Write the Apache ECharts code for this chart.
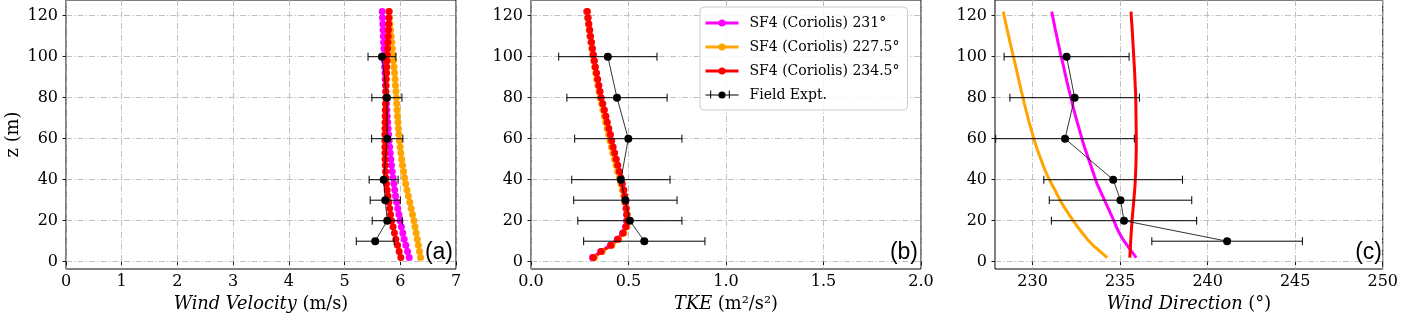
<!DOCTYPE html>
<html><head><meta charset="utf-8">
<script src="https://cdn.jsdelivr.net/npm/echarts@6/dist/echarts.min.js"></script>
<style>html,body{margin:0;padding:0;background:#fff}#c{width:1401px;height:318px}</style>
</head><body><div id="c"></div>
<script>
// ---------- data ----------
const heights = [2,5,8,11,14,17,20,23,26,29,32,35,38,41,44,47,50,53,56,59,62,65,68,71,74,77,80,83,86,89,92,95,98,101,104,107,110,113,116,119,122];

const velMagenta = [6.16,6.13,6.10,6.07,6.045,6.02,5.995,5.975,5.955,5.935,5.915,5.90,5.885,5.87,5.855,5.842,5.83,5.82,5.81,5.80,5.79,5.782,5.774,5.766,5.759,5.752,5.746,5.74,5.735,5.73,5.725,5.72,5.715,5.711,5.706,5.701,5.696,5.691,5.686,5.681,5.676];
const velOrange = [6.365,6.345,6.325,6.305,6.285,6.265,6.245,6.22,6.195,6.17,6.145,6.12,6.097,6.076,6.058,6.04,6.025,6.01,5.997,5.985,5.975,5.966,5.958,5.95,5.943,5.936,5.93,5.922,5.914,5.906,5.897,5.888,5.878,5.868,5.858,5.847,5.836,5.825,5.815,5.805,5.795];
const velRed = [6.01,5.98,5.95,5.92,5.895,5.87,5.845,5.825,5.81,5.795,5.78,5.765,5.752,5.742,5.735,5.73,5.727,5.725,5.724,5.724,5.724,5.725,5.727,5.729,5.731,5.734,5.737,5.741,5.745,5.749,5.754,5.758,5.763,5.768,5.773,5.778,5.783,5.788,5.792,5.796,5.80];

const tkeMagenta = [0.315,0.357,0.407,0.443,0.47,0.485,0.49,0.49,0.487,0.483,0.479,0.474,0.466,0.459,0.451,0.443,0.435,0.427,0.419,0.412,0.405,0.397,0.389,0.382,0.374,0.366,0.358,0.352,0.346,0.34,0.334,0.328,0.323,0.318,0.313,0.308,0.303,0.299,0.295,0.29,0.285];
const tkeOrange = [0.325,0.365,0.415,0.45,0.477,0.491,0.495,0.493,0.488,0.482,0.476,0.469,0.461,0.453,0.444,0.436,0.428,0.42,0.412,0.405,0.398,0.39,0.383,0.376,0.369,0.362,0.355,0.349,0.343,0.337,0.332,0.327,0.322,0.317,0.312,0.308,0.303,0.299,0.295,0.291,0.287];
const tkeRed = [0.32,0.36,0.41,0.445,0.472,0.487,0.492,0.492,0.489,0.485,0.481,0.476,0.468,0.461,0.453,0.445,0.437,0.429,0.421,0.414,0.407,0.399,0.391,0.384,0.376,0.368,0.36,0.354,0.348,0.342,0.336,0.33,0.325,0.32,0.315,0.31,0.305,0.301,0.297,0.293,0.289];

const dirMagenta = [235.92,235.65,235.4,235.15,234.95,234.78,234.64,234.48,234.32,234.16,234.0,233.84,233.68,233.56,233.44,233.32,233.2,233.08,232.96,232.85,232.75,232.65,232.55,232.45,232.36,232.27,232.19,232.1,232.01,231.93,231.85,231.77,231.69,231.6,231.53,231.45,231.38,231.3,231.23,231.16,231.09];
const dirOrange = [234.26,233.85,233.45,233.12,232.84,232.57,232.32,232.08,231.85,231.64,231.45,231.27,231.08,230.9,230.74,230.6,230.47,230.34,230.22,230.1,230.0,229.9,229.8,229.71,229.62,229.53,229.45,229.36,229.28,229.2,229.12,229.04,228.96,228.87,228.79,228.71,228.63,228.55,228.47,228.4,228.32];
const dirRed = [235.55,235.57,235.59,235.61,235.63,235.655,235.68,235.71,235.74,235.77,235.8,235.83,235.855,235.87,235.885,235.9,235.91,235.915,235.92,235.92,235.92,235.915,235.91,235.905,235.9,235.895,235.89,235.88,235.86,235.845,235.83,235.81,235.79,235.77,235.75,235.73,235.71,235.69,235.665,235.64,235.62];

const fieldZ = [10,20,30,40,60,80,100];
const fieldVel = [5.55,5.766,5.73,5.701,5.766,5.76,5.671];
const fieldVelErr = [0.34,0.27,0.27,0.26,0.28,0.27,0.25];
const fieldTke = [0.581,0.507,0.484,0.461,0.499,0.441,0.394];
const fieldTkeErr = [0.311,0.267,0.265,0.252,0.275,0.257,0.252];
const fieldDir = [241.11,235.22,235.02,234.6,231.85,232.4,231.94];
const fieldDirErr = [4.3,4.15,4.07,3.96,3.96,3.7,3.57];

const zTicks = [0,20,40,60,80,100,120];
const dirTicks = [230,235,240,245,250];

const names = ['SF4 (Coriolis) 231°','SF4 (Coriolis) 227.5°','SF4 (Coriolis) 234.5°','Field Expt.'];
const colors = ['#ff00ff','#ffa500','#ff0000'];
const panelLabels = ['(a)','(b)','(c)'];

// ---------- chart ----------
const chart = echarts.init(document.getElementById('c'), null, {renderer:'canvas'});
const SERIF = 'DejaVu Serif';
const pairs = xs => xs.map((x,i)=>[x, heights[i]]);
const fpairs = xs => xs.map((x,i)=>[x, fieldZ[i]]);

const grids = [
  {left:66, top:0, width:390, height:269},
  {left:531, top:0, width:390, height:269},
  {left:995, top:0, width:390, height:269}
].map(g => Object.assign(g, {show:true, borderColor:'#000', borderWidth:1, backgroundColor:'transparent'}));

const splitLine = {show:true, lineStyle:{color:'#b0b0b0', width:0.8, type:[6,2.2,1.2,2.2]}};
const axisTick = {show:true, inside:false, length:3.5, lineStyle:{color:'#000', width:0.9}};
const lab = {fontFamily:SERIF, fontSize:16, color:'#000'};
const NFS = 17.8;
const nameStyle = {fontFamily:SERIF, fontSize:NFS, color:'#000', rich:{i:{fontFamily:SERIF, fontSize:NFS, fontStyle:'italic', color:'#000'}}};

function xAx(gi, extra){
  return Object.assign({gridIndex:gi, type:'value', axisLine:{show:false}, axisTick:Object.assign({}, axisTick),
    axisLabel:Object.assign({margin:5, showMinLabel:true, showMaxLabel:true}, lab), splitLine,
    nameLocation:'middle', nameGap:25, nameTextStyle:nameStyle}, extra);
}
function yAx(gi, extra){
  return Object.assign({gridIndex:gi, type:'value', min:-3.56, max:127.66, axisLine:{show:false},
    axisTick:Object.assign({customValues:zTicks}, axisTick),
    axisLabel:Object.assign({margin:8, customValues:zTicks}, lab), splitLine}, extra);
}

const xAxes = [
  xAx(0, {min:0, max:7, interval:1, name:'{i|Wind Velocity} (m/s)'}),
  xAx(1, {min:0, max:2, interval:0.5, name:'{i|TKE} (m²/s²)', axisLabel:Object.assign({margin:5, formatter:v=>v.toFixed(1)}, lab)}),
  xAx(2, {min:227.85, max:250, name:'{i|Wind Direction} (°)',
    axisTick:Object.assign({customValues:dirTicks}, axisTick),
    axisLabel:Object.assign({margin:5, customValues:dirTicks}, lab)})
];
const yAxes = [
  yAx(0, {name:'z (m)', nameLocation:'middle', nameGap:44, nameRotate:90, nameTextStyle:{fontFamily:SERIF, fontSize:NFS, color:'#000'}}),
  yAx(1, {}), yAx(2, {})
];

function model(gi, idx, xs, marker){
  return {type:'line', name:names[idx], xAxisIndex:gi, yAxisIndex:gi, data:pairs(xs),
    color:colors[idx], lineStyle:{width:3, color:colors[idx]}, itemStyle:{color:colors[idx]},
    symbol: marker ? 'circle' : 'none', showSymbol: marker, symbolSize:7, animation:false, z:2};
}
function field(gi, xs){
  return {type:'line', name:names[3], xAxisIndex:gi, yAxisIndex:gi, data:fpairs(xs), color:'#000',
    lineStyle:{width:0.8, color:'#000'}, itemStyle:{color:'#000'}, symbol:'circle', symbolSize:8, animation:false, z:6};
}
function errs(gi, xs, es){
  return {type:'custom', xAxisIndex:gi, yAxisIndex:gi, silent:true, animation:false, z:5,
    data: xs.map((x,i)=>[x, fieldZ[i], x-es[i], x+es[i]]),
    encode:{x:[0,2,3], y:1},
    renderItem:(params, api)=>{
      const y = api.value(1);
      const a = api.coord([api.value(2), y]);
      const b = api.coord([api.value(3), y]);
      const h = 4;
      const st = {stroke:'#000', lineWidth:1};
      return {type:'group', children:[
        {type:'line', shape:{x1:a[0], y1:a[1], x2:b[0], y2:b[1]}, style:st},
        {type:'line', shape:{x1:a[0], y1:a[1]-h, x2:a[0], y2:a[1]+h}, style:st},
        {type:'line', shape:{x1:b[0], y1:b[1]-h, x2:b[0], y2:b[1]+h}, style:st}
      ]};
    }};
}

const series = [
  model(0,0,velMagenta,true), model(0,1,velOrange,true), model(0,2,velRed,true),
  errs(0, fieldVel, fieldVelErr), field(0, fieldVel),
  model(1,0,tkeMagenta,true), model(1,1,tkeOrange,true), model(1,2,tkeRed,true),
  errs(1, fieldTke, fieldTkeErr), field(1, fieldTke),
  model(2,0,dirMagenta,false), model(2,1,dirOrange,false), model(2,2,dirRed,false),
  errs(2, fieldDir, fieldDirErr), field(2, fieldDir)
];

const labelPos = [[453,264],[918,264],[1382,264]];
const graphic = panelLabels.map((t,i)=>({type:'text', x:labelPos[i][0], y:labelPos[i][1], z:10,
  style:{text:t, font:'23px "Liberation Sans"', fill:'#000', align:'right', verticalAlign:'bottom'}}));
// error-bar caps for the legend key of "Field Expt."
[710.7, 729.3].forEach(x => graphic.push({type:'line', z:100, silent:true,
  shape:{x1:x, y1:90.5, x2:x, y2:98.5}, style:{stroke:'#000', lineWidth:1}}));

const legendData = names.map((n,i)=> i<3 ? {name:n, lineStyle:{width:3}} : {name:n, lineStyle:{width:1}});

chart.setOption({
  animation:false,
  grid:grids, xAxis:xAxes, yAxis:yAxes, series, graphic,
  legend:{left:700, top:7, orient:'vertical', itemWidth:33, itemHeight:9, itemGap:10,
    padding:[9,8,8,4], borderColor:'#cccccc', borderWidth:1, borderRadius:4,
    backgroundColor:'rgba(255,255,255,0.85)', selectedMode:false,
    textStyle:{fontFamily:SERIF, fontSize:14, color:'#000', padding:[0,0,0,6]},
    data:legendData}
});
</script></body></html>
